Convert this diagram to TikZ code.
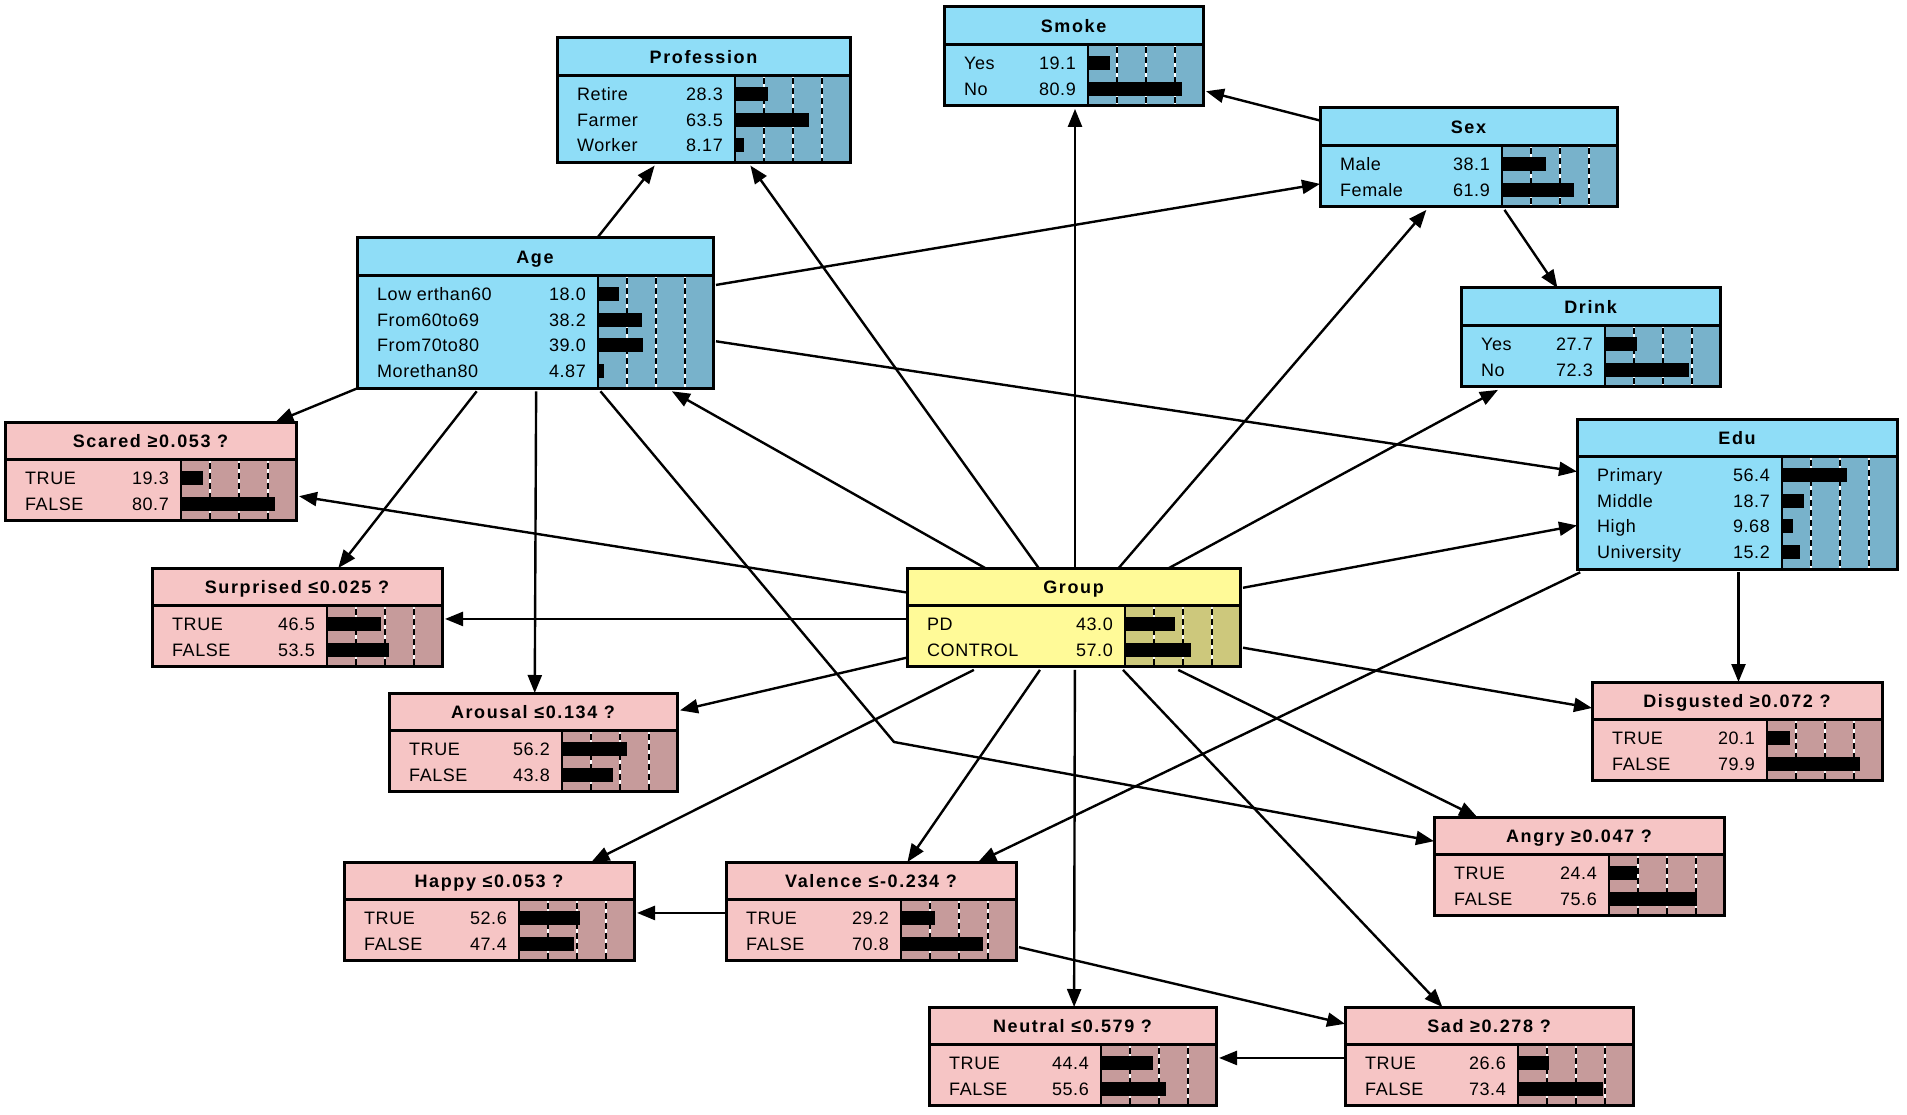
\documentclass[tikz,border=0pt]{standalone}
\usepackage{fontspec}
\setmainfont{Liberation Sans}
\newfontfamily\bntitlefam[LetterSpace=9]{Liberation Sans}
\newfontfamily\bnrowfam[LetterSpace=3]{Liberation Sans}
\usetikzlibrary{arrows.meta,calc}
\definecolor{bluebg}{HTML}{8FDDF7}
\definecolor{bluebar}{HTML}{78B2CB}
\definecolor{pinkbg}{HTML}{F6C5C5}
\definecolor{pinkbar}{HTML}{C69B9B}
\definecolor{yelbg}{HTML}{FFFA98}
\definecolor{yelbar}{HTML}{CDC87C}
\newcommand\bntitlefont{\bntitlefam\bfseries\fontsize{18}{20}\selectfont}
\newcommand\bnrowfont{\bnrowfam\fontsize{18}{20}\selectfont}
\tikzset{
  link/.style={line width=2.4pt,-{Triangle[length=18pt,width=14pt]}},
  bntext/.style={inner sep=0pt,font=\bnrowfont},
}
% #1 name #2 left #3 top #4 width #5 nrows #6 colour prefix #7 title #8 rows
\newcommand\bnbox[8]{%
  \pgfmathsetmacro\bnL{#2}%
  \pgfmathsetmacro\bnT{#3}%
  \pgfmathsetmacro\bnR{#2+#4}%
  \pgfmathsetmacro\bnD{#3+37.5}%
  \pgfmathsetmacro\bnB{\bnD+10+25.7*#5}%
  \pgfmathsetmacro\bnS{\bnR-115}%
  \pgfmathsetmacro\bnH{\bnB-#3}%
  \node[inner sep=0pt,outer sep=1.5pt,minimum width=#4pt,minimum height=\bnH pt,anchor=north west] (#1) at (\bnL,\bnT) {};
  \fill[#6bg] (\bnL,\bnT) rectangle (\bnR,\bnB);
  \fill[#6bar] (\bnS,\bnD) rectangle (\bnR,\bnB);
  \foreach \k in {29,58,87} {
    \draw[white,line width=2pt] (\bnS+\k,\bnD) -- (\bnS+\k,\bnB);
    \draw[black,line width=2pt,dash pattern=on 6pt off 4pt] (\bnS+\k,\bnD+3) -- (\bnS+\k,\bnB);
  }
  \foreach \lab/\val [count=\i from 0] in {#8} {
    \pgfmathsetmacro\bnY{\bnD+18.5+25.7*\i}
    \fill[black] (\bnS,\bnY-7) rectangle ({\bnS+1.16*\val},\bnY+7);
    \node[bntext,anchor=base west] at (\bnL+20,\bnY+6.5) {\lab};
    \node[bntext,anchor=base east] at (\bnS-12,\bnY+6.5) {\val};
  }
  \node[inner sep=0pt,anchor=base,font=\bntitlefont] at ({(\bnL+\bnR)/2},\bnT+25.5) {#7};
  \draw[black,line width=1.5pt] (\bnS,\bnD) -- (\bnS,\bnB);
  \draw[black,line width=3pt] (\bnL,\bnD) -- (\bnR,\bnD);
  \draw[black,line width=3pt] (\bnL,\bnT) rectangle (\bnR,\bnB);
}
\begin{document}
\begin{tikzpicture}[x=1pt,y=-1pt]
\useasboundingbox (0,0) rectangle (1907,1115);
\fill[white] (0,0) rectangle (1907,1115);

\bnbox{smoke}{944}{7}{259}{2}{blue}{Smoke}{Yes/19.1,No/80.9}
\bnbox{profession}{557}{38}{293}{3}{blue}{Profession}{Retire/28.3,Farmer/63.5,Worker/8.17}
\bnbox{sex}{1320}{108}{297}{2}{blue}{Sex}{Male/38.1,Female/61.9}
\bnbox{age}{357}{238}{356}{4}{blue}{Age}{Low erthan60/18.0,From60to69/38.2,From70to80/39.0,Morethan80/4.87}
\bnbox{drink}{1461}{288}{259}{2}{blue}{Drink}{Yes/27.7,No/72.3}
\bnbox{edu}{1577}{419}{320}{4}{blue}{Edu}{Primary/56.4,Middle/18.7,High/9.68,University/15.2}
\bnbox{scared}{5}{422}{291}{2}{pink}{Scared ≥0.053 ?}{TRUE/19.3,FALSE/80.7}
\bnbox{surprised}{152}{568}{290}{2}{pink}{Surprised ≤0.025 ?}{TRUE/46.5,FALSE/53.5}
\bnbox{group}{907}{568}{333}{2}{yel}{Group}{PD/43.0,CONTROL/57.0}
\bnbox{arousal}{389}{693}{288}{2}{pink}{Arousal ≤0.134 ?}{TRUE/56.2,FALSE/43.8}
\bnbox{disgusted}{1592}{682}{290}{2}{pink}{Disgusted ≥0.072 ?}{TRUE/20.1,FALSE/79.9}
\bnbox{angry}{1434}{817}{290}{2}{pink}{Angry ≥0.047 ?}{TRUE/24.4,FALSE/75.6}
\bnbox{happy}{344}{862}{290}{2}{pink}{Happy ≤0.053 ?}{TRUE/52.6,FALSE/47.4}
\bnbox{valence}{726}{862}{290}{2}{pink}{Valence ≤-0.234 ?}{TRUE/29.2,FALSE/70.8}
\bnbox{neutral}{929}{1007}{287}{2}{pink}{Neutral ≤0.579 ?}{TRUE/44.4,FALSE/55.6}
\bnbox{sad}{1345}{1007}{288}{2}{pink}{Sad ≥0.278 ?}{TRUE/26.6,FALSE/73.4}

\coordinate (bend) at (894,742);

\draw[link] (age) -- (profession);
\draw[link] (group) -- (profession);
\draw[link] (group) -- (smoke);
\draw[link] (sex) -- (smoke);
\draw[link] (age) -- (sex);
\draw[link] (group) -- (sex);
\draw[link] (sex) -- (drink);
\draw[link] (group) -- (drink);
\draw[link] (age) -- (edu);
\draw[link] (group) -- (edu);
\draw[link] (group) -- (age);
\draw[link] (age) -- (scared);
\draw[link] (group) -- (scared);
\draw[link] (age) -- (surprised);
\draw[link] (group) -- (surprised);
\draw[link] (age) -- (arousal);
\draw[link] (group) -- (arousal);
\draw[link] (age) -- (bend) -- (angry);
\draw[link] (group) -- (angry);
\draw[link] (group) -- (disgusted);
\draw[link] (edu) -- (disgusted);
\draw[link] (group) -- (happy);
\draw[link] (group) -- (valence);
\draw[link] (edu) -- (valence);
\draw[link] (valence) -- (happy);
\draw[link] (group) -- (neutral);
\draw[link] (valence) -- (sad);
\draw[link] (group) -- (sad);
\draw[link] (sad) -- (neutral);
\end{tikzpicture}
\end{document}
